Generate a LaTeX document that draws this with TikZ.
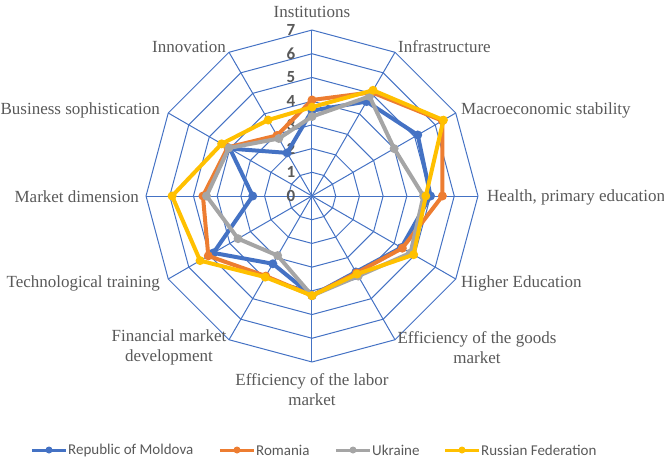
\documentclass[tikz,border=0pt]{standalone}
\usepackage{fontspec}
\setmainfont{Liberation Serif}
\newfontfamily\calibri{Carlito}
\usetikzlibrary{positioning}
\definecolor{gridblue}{HTML}{4472C4}
\definecolor{mdblue}{HTML}{4472C4}
\definecolor{roorange}{HTML}{ED7D31}
\definecolor{uagray}{HTML}{A5A5A5}
\definecolor{ruyellow}{HTML}{FFC000}
\definecolor{txtgray}{HTML}{595959}
\newcommand{\unitr}{23.71}

\begin{document}
\begin{tikzpicture}[x=1pt,y=1pt,
  grid/.style={draw=gridblue,line width=1pt},
  series/.style={line width=4pt,line join=round},
  dot/.style={circle,inner sep=0pt,minimum size=9pt},
  axislabel/.style={font=\fontsize{17}{20}\selectfont,text=txtgray,align=center,inner sep=0pt},
  ticklabel/.style={font=\calibri\bfseries\fontsize{17}{19}\selectfont,text=txtgray,inner sep=0pt},
  legendtext/.style={font=\calibri\fontsize{15}{17}\selectfont,text=txtgray,inner sep=0pt}]
\useasboundingbox (-312,-263) rectangle (352,196);
\coordinate (c) at (0,0);
\foreach \k in {1,...,7}
  \draw[grid] (90:\k*\unitr) \foreach \a in {1,...,11}{ -- (90-\a*30:\k*\unitr)} -- cycle;
\foreach \a in {0,...,11} {
  \coordinate (ax-\a) at (90-\a*30:7*\unitr);
  \draw[grid] (c) -- (ax-\a);
}
\foreach \k in {0,...,7}
  \node[ticklabel] (tick-\k) at (-21,\k*\unitr) {\k};
% series
\foreach \name/\col/\vals in {
    md/mdblue/{3.6,4.6,5.15,5.0,4.35,3.7,4.2,3.3,4.8,2.5,4.0,2.1},
    ro/roorange/{4.05,5.05,6.35,5.5,4.4,3.75,4.2,3.9,5.05,4.6,4.1,2.95},
    ua/uagray/{3.35,4.85,4.0,4.7,4.8,3.9,4.2,2.9,3.6,4.45,4.05,2.8},
    ru/ruyellow/{3.75,5.15,6.4,4.8,4.95,3.8,4.2,3.95,5.45,5.9,4.4,3.7}} {
  \foreach \v [count=\i from 0] in \vals
    \coordinate (\name-\i) at (90-\i*30:\v*\unitr);
  \draw[series,draw=\col] (\name-0) \foreach \i in {1,...,11}{ -- (\name-\i)} -- cycle;
  \foreach \i in {0,...,11}
    \node[dot,fill=\col] (\name-m\i) at (\name-\i) {};
}
% axis labels
\node[axislabel] (l-inst) at (0,184) {Institutions};
\node[axislabel,anchor=west] (l-infra) at (86,149) {Infrastructure};
\node[axislabel,anchor=west] (l-macro) at (149,86) {Macroeconomic stability};
\node[axislabel,anchor=west] (l-health) at (175,-1) {Health, primary education};
\node[axislabel,anchor=west] (l-higher) at (149,-87) {Higher Education};
\node[axislabel] (l-goods) at (165,-151.5) {Efficiency of the goods\\market};
\node[axislabel] (l-labor) at (0,-193.5) {Efficiency of the labor\\market};
\node[axislabel] (l-fin) at (-143,-151.5) {Financial market\\development};
\node[axislabel,anchor=east] (l-tech) at (-152,-87) {Technological training};
\node[axislabel,anchor=east] (l-market) at (-173,-1) {Market dimension};
\node[axislabel,anchor=east] (l-bus) at (-152,86) {Business sophistication};
\node[axislabel,anchor=east] (l-innov) at (-86,149) {Innovation};
% legend
\foreach \name/\col/\txt/\xs in {md/mdblue/Republic of Moldova/-280,
    ro/roorange/Romania/-92, ua/uagray/Ukraine/24, ru/ruyellow/Russian Federation/133} {
  \coordinate (\name-la) at (\xs,-254);
  \coordinate (\name-lb) at (\xs+34,-254);
  \draw[series,draw=\col,line width=3pt] (\name-la) -- (\name-lb);
  \node[dot,fill=\col,minimum size=7pt] (\name-lm) at (\xs+17,-254) {};
  \node[legendtext,right=2pt of \name-lb] (\name-lt) {\txt};
}
\end{tikzpicture}
\end{document}
